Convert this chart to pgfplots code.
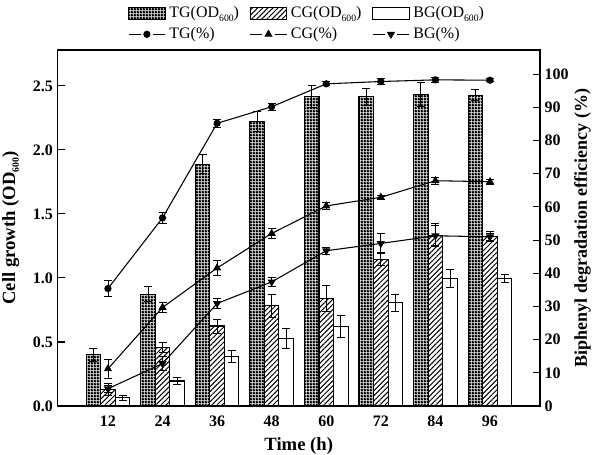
\documentclass[border=0pt]{standalone}
\usepackage{fontspec}
\setmainfont{Liberation Serif}
\usepackage{pgfplots}
\pgfplotsset{compat=1.18}
\usetikzlibrary{patterns,patterns.meta}
\newcommand\sub[1]{\raisebox{-0.45ex}{\fontsize{7.3}{8}\selectfont #1}}

\pgfdeclarepatternformonly{checkdots}{\pgfpointorigin}{\pgfqpoint{2.3pt}{2.3pt}}{\pgfqpoint{2.3pt}{2.3pt}}{%
  \pgfpathrectangle{\pgfpointorigin}{\pgfqpoint{2.3pt}{2.3pt}}%
  \pgfpathcircle{\pgfqpoint{1.15pt}{1.15pt}}{0.55pt}%
  \pgfseteorule
  \pgfusepath{fill}%
}

\pgfplotsset{
  common/.style={
    at={(0,0)}, anchor=south west, scale only axis,
    width=361.9pt, height=267pt,
    xmin=0.9, xmax=107,
    tick align=inside, major tick length=5.5pt,
    axis line style={line width=0.9pt},
    every tick/.style={line width=0.8pt, black},
    /pgf/number format/assume math mode=true,
    tick label style={font=\fontsize{12}{14}\selectfont\bfseries},
  },
  barlegend/.style={legend image code/.code={\draw[##1] (0cm,-0.16cm) rectangle (0.96cm,0.16cm);}},
  linelegend/.style={legend image code/.code={%
      \draw[##1,mark=none] (0cm,0cm) -- (0.32cm,0cm);
      \draw[##1,mark=none] (0.64cm,0cm) -- (0.96cm,0cm);
      \draw[##1] plot coordinates {(0.48cm,0cm)};}},
  errs/.style={forget plot, draw=none, mark=none,
      error bars/.cd, y dir=both, y explicit,
      error bar style={line width=0.6pt, solid, draw=black},
      error mark options={rotate=90, mark size=3pt, line width=0.6pt, draw=black}},
}

\begin{document}
\begin{tikzpicture}
\begin{axis}[common,
  ymin=0, ymax=2.78,
  xtick={12,24,36,48,60,72,84,96}, xtick style={draw=none},
  xticklabel style={yshift=-4pt},
  ytick={0,0.5,1,1.5,2,2.5}, ytick pos=left,
  yticklabel style={/pgf/number format/.cd, fixed, fixed zerofill, precision=1},
  xlabel={Time (h)},
  ylabel={Cell growth (OD\sub{600})},
  every axis x label/.style={at={(axis description cs:0.5,-0.112)}, anchor=center,
      font=\fontsize{14}{16}\selectfont\bfseries},
  every axis y label/.style={at={(axis description cs:-0.097,0.5)}, rotate=90, anchor=center,
      font=\fontsize{14}{16}\selectfont\bfseries},
  legend columns=3,
  legend style={at={(axis description cs:0.518,1.01)}, anchor=south, draw=none, fill=none,
    font=\fontsize{12}{14}\selectfont, row sep=2pt,
    /tikz/every odd column/.append style={column sep=0.8pt},
    /tikz/every even column/.append style={column sep=6pt}},
  legend cell align=left,
]
\addplot[ybar, bar width=3.2, bar shift=-3.2, draw=black, line width=0.8pt, pattern=checkdots, barlegend]
 coordinates {(12,0.40) (24,0.874) (36,1.889) (48,2.219) (60,2.415) (72,2.415) (84,2.433) (96,2.428)};
\addplot[ybar, bar width=3.2, bar shift=0, draw=black, line width=0.8pt, pattern={Lines[angle=45,distance=2.7pt,line width=0.75pt]}, barlegend]
 coordinates {(12,0.13) (24,0.458) (36,0.625) (48,0.783) (60,0.84) (72,1.147) (84,1.335) (96,1.327)};
\addplot[ybar, bar width=3.2, bar shift=3.2, draw=black, line width=0.8pt, fill=white, barlegend]
 coordinates {(12,0.065) (24,0.195) (36,0.385) (48,0.528) (60,0.622) (72,0.806) (84,0.997) (96,0.997)};
\addlegendentry{TG(OD\sub{600})}
\addlegendentry{CG(OD\sub{600})}
\addlegendentry{BG(OD\sub{600})}
\addlegendimage{black, line width=0.8pt, mark=*, mark size=2.3pt, linelegend}
\addlegendentry{TG(\%)}
\addlegendimage{black, line width=0.8pt, mark=triangle*, mark size=2.8pt, linelegend}
\addlegendentry{CG(\%)}
\addlegendimage{black, line width=0.8pt, mark=triangle*, mark size=2.8pt, mark options={rotate=180}, linelegend}
\addlegendentry{BG(\%)}
% error bars of the bars (x shifted by the bar shift)
\addplot[errs] coordinates {(8.8,0.40)+-(0,0.05) (20.8,0.874)+-(0,0.057) (32.8,1.889)+-(0,0.076) (44.8,2.219)+-(0,0.078)
   (56.8,2.415)+-(0,0.086) (68.8,2.415)+-(0,0.065) (80.8,2.433)+-(0,0.094) (92.8,2.428)+-(0,0.045)};
\addplot[errs] coordinates {(12,0.13)+-(0,0.05) (24,0.458)+-(0,0.04) (36,0.625)+-(0,0.055) (48,0.783)+-(0,0.09)
   (60,0.84)+-(0,0.1) (72,1.147)+-(0,0.05) (84,1.335)+-(0,0.09) (96,1.327)+-(0,0.04)};
\addplot[errs] coordinates {(15.2,0.065)+-(0,0.02) (27.2,0.195)+-(0,0.03) (39.2,0.385)+-(0,0.047) (51.2,0.528)+-(0,0.078)
   (63.2,0.622)+-(0,0.083) (75.2,0.806)+-(0,0.068) (87.2,0.997)+-(0,0.07) (99.2,0.997)+-(0,0.03)};
\end{axis}

\begin{axis}[common,
  ymin=0, ymax=107.3,
  axis x line=none, axis y line*=right,
  ytick={0,10,...,100},
  ylabel={Biphenyl degradation efficiency (\%)},
  every axis y label/.style={at={(axis description cs:1.088,0.5)}, rotate=90, anchor=center,
      font=\fontsize{13.5}{15}\selectfont\bfseries},
]
\addplot[black, line width=0.8pt, mark=*, mark size=2.3pt]
 coordinates {(12,35.4) (24,56.7) (36,85.2) (48,90.2) (60,97.1) (72,97.8) (84,98.3) (96,98.2)};
\addplot[black, line width=0.8pt, mark=triangle*, mark size=2.8pt]
 coordinates {(12,11.2) (24,29.7) (36,41.6) (48,52.0) (60,60.3) (72,62.9) (84,67.9) (96,67.6)};
\addplot[black, line width=0.8pt, mark=triangle*, mark size=2.8pt, mark options={rotate=180}]
 coordinates {(12,5.2) (24,12.8) (36,30.9) (48,37.4) (60,46.8) (72,49.0) (84,51.3) (96,51.0)};
\addplot[errs] coordinates {(12,35.4)+-(0,2.4) (24,56.7)+-(0,1.6) (36,85.2)+-(0,1.2) (48,90.2)+-(0,1.0)
   (60,97.1)+-(0,0.6) (72,97.8)+-(0,0.8) (84,98.3)+-(0,0.7) (96,98.2)+-(0,0.4)};
\addplot[errs] coordinates {(12,11.2)+-(0,2.8) (24,29.7)+-(0,1.5) (36,41.6)+-(0,2.3) (48,52.0)+-(0,1.5)
   (60,60.3)+-(0,1.0) (72,62.9)+-(0,0.7) (84,67.9)+-(0,1.1) (96,67.6)+-(0,0.8)};
\addplot[errs] coordinates {(12,5.2)+-(0,1.0) (24,12.8)+-(0,2.0) (36,30.9)+-(0,1.5) (48,37.4)+-(0,1.3)
   (60,46.8)+-(0,1.0) (72,49.0)+-(0,3.0) (84,51.3)+-(0,3.0) (96,51.0)+-(0,1.0)};
\end{axis}
\pgfresetboundingbox
\useasboundingbox (-43.1pt,-36pt) rectangle (400.9pt,304.5pt);
\end{tikzpicture}
\end{document}
